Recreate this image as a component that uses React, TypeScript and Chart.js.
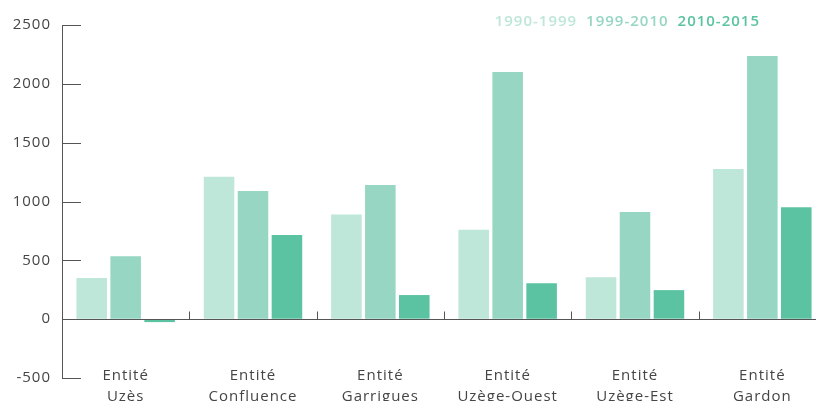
import React, { useEffect, useRef } from "react";
import { Chart, registerables } from "chart.js";

Chart.register(...registerables);

// ---- data ----
const categories = [
  ["Entité", "Uzès"],
  ["Entité", "Confluence"],
  ["Entité", "Garrigues"],
  ["Entité", "Uzège-Ouest"],
  ["Entité", "Uzège-Est"],
  ["Entité", "Gardon"],
];
const seriesLabels = ["1990-1999", "1999-2010", "2010-2015"];
const values1990_1999 = [350, 1210, 890, 760, 357, 1276];
const values1999_2010 = [535, 1090, 1140, 2100, 910, 2236];
const values2010_2015 = [-25, 715, 205, 305, 247, 952];
const seriesColors = ["#bee6d9", "#96d6c2", "#5bc3a1"];
const yMin = -500;
const yMax = 2500;
const yStep = 500;

const FONT = "'Open Sans', 'Noto Sans', sans-serif";
const AXIS_COLOR = "#555555";
const TEXT_COLOR = "#454545";

const decorPlugin = {
  id: "decor",
  beforeUpdate(chart: any) {
    (chart.ctx as any).letterSpacing = "1px";
  },
  afterLayout(chart: any) {
    // let the two-line category labels start just above the bottom of the plot
    const x = chart.scales.x;
    x.top = chart.chartArea.bottom - 12;
  },
  beforeDraw(chart: any) {
    (chart.ctx as any).letterSpacing = "1px";
  },
  afterDatasetsDraw(chart: any) {
    const { ctx, chartArea, scales } = chart;
    const y = scales.y;
    const x = scales.x;
    ctx.save();
    ctx.strokeStyle = AXIS_COLOR;
    ctx.lineWidth = 1;
    const y0 = Math.round(y.getPixelForValue(0)) + 0.5;
    ctx.beginPath();
    ctx.moveTo(chartArea.left, y0);
    ctx.lineTo(chartArea.right, y0);
    ctx.stroke();
    for (let i = 0; i < x.ticks.length - 1; i++) {
      const bx = Math.round((x.getPixelForValue(i) + x.getPixelForValue(i + 1)) / 2) + 0.5;
      ctx.beginPath();
      ctx.moveTo(bx, y0 - 8);
      ctx.lineTo(bx, y0);
      ctx.stroke();
    }
    y.ticks.forEach((t: any) => {
      const py = Math.round(y.getPixelForValue(t.value)) + 0.5;
      ctx.beginPath();
      ctx.moveTo(chartArea.left, py);
      ctx.lineTo(chartArea.left + 19, py);
      ctx.stroke();
    });
    // legend (text only, coloured like the series)
    ctx.font = "600 15px " + FONT;
    ctx.textBaseline = "middle";
    ctx.textAlign = "right";
    let rx = chart.width - 66;
    const ds = chart.data.datasets;
    for (let i = ds.length - 1; i >= 0; i--) {
      ctx.fillStyle = ds[i].backgroundColor;
      ctx.fillText(ds[i].label, rx, 22);
      rx -= ctx.measureText(ds[i].label).width + 9;
    }
    ctx.restore();
  },
};

export default function App() {
  const canvasRef = useRef<HTMLCanvasElement | null>(null);

  useEffect(() => {
    if (!canvasRef.current) return;
    const chart = new Chart(canvasRef.current, {
      type: "bar",
      data: {
        labels: categories,
        datasets: [
          { label: seriesLabels[0], data: values1990_1999, backgroundColor: seriesColors[0] },
          { label: seriesLabels[1], data: values1999_2010, backgroundColor: seriesColors[1] },
          { label: seriesLabels[2], data: values2010_2015, backgroundColor: seriesColors[2] },
        ],
      },
      options: {
        animation: false,
        responsive: false,
        layout: { padding: { top: 25, left: 0, right: 0, bottom: 0 } },
        datasets: { bar: { categoryPercentage: 0.8, barPercentage: 0.9 } },
        plugins: { legend: { display: false }, tooltip: { enabled: false } },
        scales: {
          x: {
            grid: { display: false, drawTicks: false },
            border: { display: false },
            ticks: {
              color: TEXT_COLOR,
              font: { family: FONT, size: 15, lineHeight: 1.35 },
              padding: 0,
              maxRotation: 0,
              autoSkip: false,
            },
            afterFit: (s: any) => {
              s.height = 23;
            },
          },
          y: {
            min: yMin,
            max: yMax,
            grid: { drawOnChartArea: false, drawTicks: false },
            border: { display: true, color: AXIS_COLOR, width: 1 },
            ticks: {
              stepSize: yStep,
              color: TEXT_COLOR,
              font: { family: FONT, size: 15 },
              padding: 11,
              callback: (v: any) => String(v),
            },
            afterFit: (s: any) => {
              s.width = 62;
            },
          },
        },
      },
      plugins: [decorPlugin],
    });
    return () => chart.destroy();
  }, []);

  return (
    <div
      style={{
        position: "fixed",
        left: 0,
        top: 0,
        width: 816,
        height: 401,
        overflow: "hidden",
        background: "#ffffff",
      }}
    >
      <canvas ref={canvasRef} width={826} height={401} style={{ display: "block" }} />
    </div>
  );
}
